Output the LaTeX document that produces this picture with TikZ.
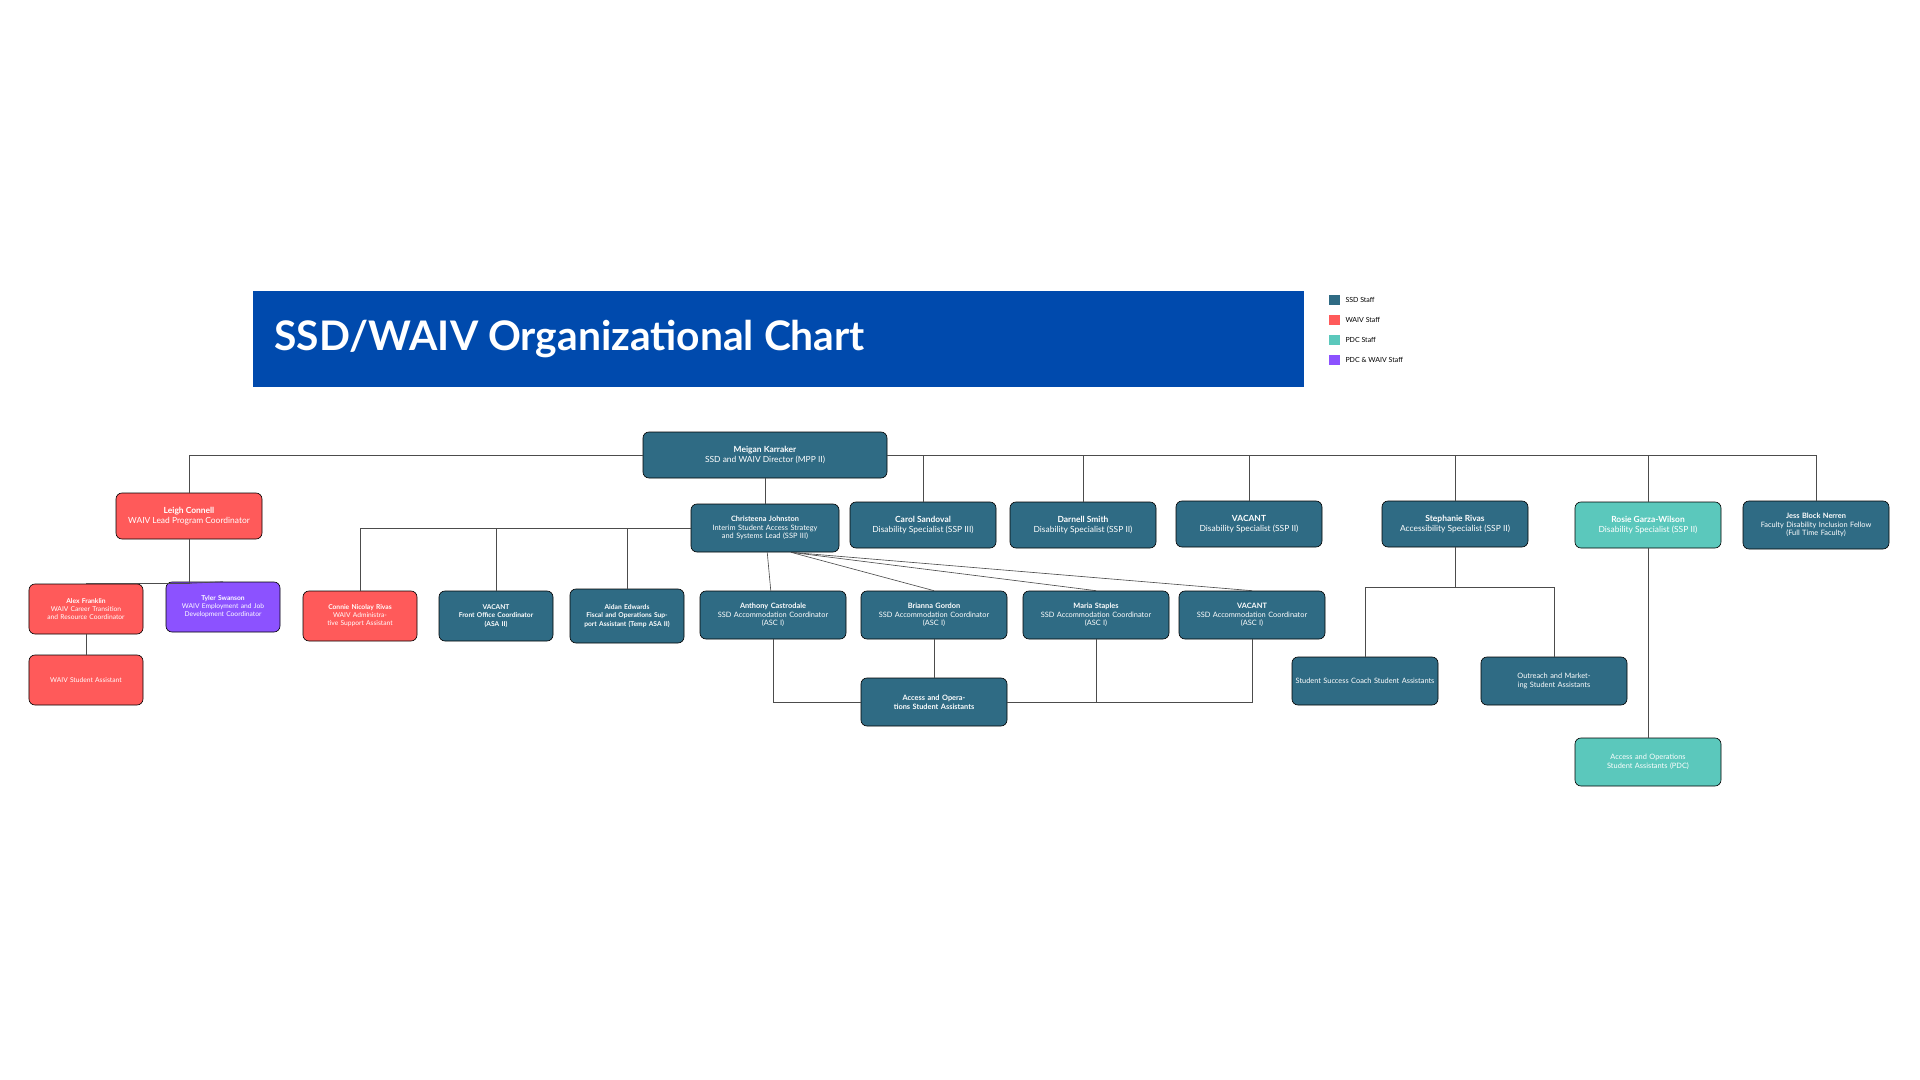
\documentclass[tikz,border=0pt]{standalone}
\usepackage{fontspec}
\setmainfont{Lato}
\usetikzlibrary{positioning}
\definecolor{ssd}{HTML}{2F6B84}
\definecolor{waiv}{HTML}{FF5A5A}
\definecolor{pdc}{HTML}{5BC8BC}
\definecolor{pdcwaiv}{HTML}{8C52FF}
\definecolor{titleblue}{HTML}{004AAD}
\begin{document}
\begin{tikzpicture}[x=0.5mm, y=-0.5mm,
    box/.style={draw=black, line width=0.9pt, rounded corners=3mm, text=white, align=center,
      minimum width=73mm, minimum height=23mm, inner sep=1pt, font=\fontsize{12}{14}\selectfont},
    small/.style={box, minimum width=57mm, minimum height=25mm, text width=55mm, font=\fontsize{9.5}{11.5}\selectfont},
    mid/.style={box, minimum width=73mm, minimum height=24mm, text width=70mm, font=\fontsize{10.5}{12.5}\selectfont},
    link/.style={draw=black!70, line width=0.9pt}]

  \useasboundingbox (0,0) rectangle (1920,1080);

  % Titel und Legende
  \fill[titleblue] (253,291) rectangle (1304,387);
  \node[anchor=west, text=white, font=\fontsize{58}{60}\selectfont\bfseries] (title) at (272,339) {SSD/WAIV Organizational Chart};
  \foreach \c/\t [count=\i] in {ssd/SSD Staff, waiv/WAIV Staff, pdc/PDC Staff, pdcwaiv/PDC \& WAIV Staff} {
    \fill[\c] (1329,{280+20*\i-5}) rectangle +(11,10);
    \node[anchor=west, font=\fontsize{10}{12}\selectfont] (leg\i) at (1343,{280+20*\i}) {\t};
  }

  % Leitung
  \node[box, fill=ssd, minimum width=122mm] (director) at (765,455) {\textbf{Meigan Karraker}\\SSD and WAIV Director (MPP II)};
  \node[box, fill=waiv] (leigh) at (189,516) {\textbf{Leigh Connell}\\WAIV Lead Program Coordinator};
  \node[mid, fill=ssd, minimum width=74mm] (christeena) at (765,528) {\textbf{Christeena Johnston}\\Interim Student Access Strategy\\and Systems Lead (SSP III)};
  \node[box, fill=ssd] (carol) at (923,525) {\textbf{Carol Sandoval}\\Disability Specialist (SSP III)};
  \node[box, fill=ssd] (darnell) at (1083,525) {\textbf{Darnell Smith}\\Disability Specialist (SSP II)};
  \node[box, fill=ssd] (vacantds) at (1249,524) {\textbf{VACANT}\\Disability Specialist (SSP II)};
  \node[box, fill=ssd] (stephanie) at (1455,524) {\textbf{Stephanie Rivas}\\Accessibility Specialist (SSP II)};
  \node[box, fill=pdc] (rosie) at (1648,525) {\textbf{Rosie Garza-Wilson}\\Disability Specialist (SSP II)};
  \node[mid, fill=ssd] (jess) at (1816,525) {\textbf{Jess Block Nerren}\\Faculty Disability Inclusion Fellow\\(Full Time Faculty)};

  % WAIV
  \node[small, fill=waiv] (alex) at (86,609) {\textbf{Alex Franklin}\\WAIV Career Transition and Resource Coordinator};
  \node[small, fill=pdcwaiv] (tyler) at (223,607) {\textbf{Tyler Swanson}\\WAIV Employment and Job Development Coordinator};
  \node[small, fill=waiv] (waivsa) at (86,680) {WAIV Student Assistant};

  % Christeena Team
  \node[small, fill=waiv] (connie) at (360,616) {\textbf{Connie Nicolay Rivas}\\WAIV Administrative Support Assistant};
  \node[small, fill=ssd, font=\fontsize{9.5}{11.5}\selectfont\bfseries] (frontoffice) at (496,616) {VACANT\\Front Office Coordinator\\(ASA II)};
  \node[small, fill=ssd, minimum height=27mm, font=\fontsize{9.5}{11.5}\selectfont\bfseries] (aidan) at (627,616) {Aidan Edwards\\Fiscal and Operations Support Assistant (Temp ASA II)};
  \node[mid, fill=ssd] (anthony) at (773,615) {\textbf{Anthony Castrodale}\\SSD Accommodation Coordinator\\(ASC I)};
  \node[mid, fill=ssd] (brianna) at (934,615) {\textbf{Brianna Gordon}\\SSD Accommodation Coordinator\\(ASC I)};
  \node[mid, fill=ssd] (maria) at (1096,615) {\textbf{Maria Staples}\\SSD Accommodation Coordinator\\(ASC I)};
  \node[mid, fill=ssd] (vacantasc) at (1252,615) {\textbf{VACANT}\\SSD Accommodation Coordinator\\(ASC I)};
  \node[mid, fill=ssd, font=\fontsize{10.5}{12.5}\selectfont\bfseries] (accessops) at (934,702) {Access and Operations Student Assistants};

  % Studentische Hilfskraefte
  \node[mid, fill=ssd] (coach) at (1365,681) {Student Success Coach Student Assistants};
  \node[mid, fill=ssd] (outreach) at (1554,681) {Outreach and Marketing Student Assistants};
  \node[mid, fill=pdc] (accesspdc) at (1648,762) {Access and Operations Student Assistants (PDC)};

  % Verbindungen
  \begin{scope}[on background layer/.try]
    \draw[link] (director.west) -| (leigh.north);
    \draw[link] (director.east) -| (jess.north);
    \foreach \n in {carol, darnell, vacantds, stephanie, rosie}
      \draw[link] (\n.north) -- (\n.north |- director.east);
    \draw[link] (director) -- (christeena);
    \draw[link] (christeena.west) -| (connie.north);
    \foreach \n in {frontoffice, aidan}
      \draw[link] (\n.north) -- (\n.north |- christeena.west);
    \draw[link] (christeena) -- (anthony);
    \foreach \n in {brianna, maria, vacantasc}
      \draw[link] ([xshift=37]christeena.south) -- (\n.north);
    \draw[link] (anthony.south) |- (accessops.west);
    \draw[link] (brianna) -- (accessops);
    \draw[link] (maria.south) |- (accessops.east);
    \draw[link] (vacantasc.south) |- (accessops.east);
    \draw[link] (leigh.south) -- ++(0,44) coordinate (lsplit) -| (alex.north);
    \draw[link] (lsplit) -- (tyler.north);
    \draw[link] (alex) -- (waivsa);
    \draw[link] (stephanie.south) -- ++(0,40) coordinate (ssplit) -| (coach.north);
    \draw[link] (ssplit) -| (outreach.north);
    \draw[link] (rosie) -- (accesspdc);
  \end{scope}
\end{tikzpicture}
\end{document}
